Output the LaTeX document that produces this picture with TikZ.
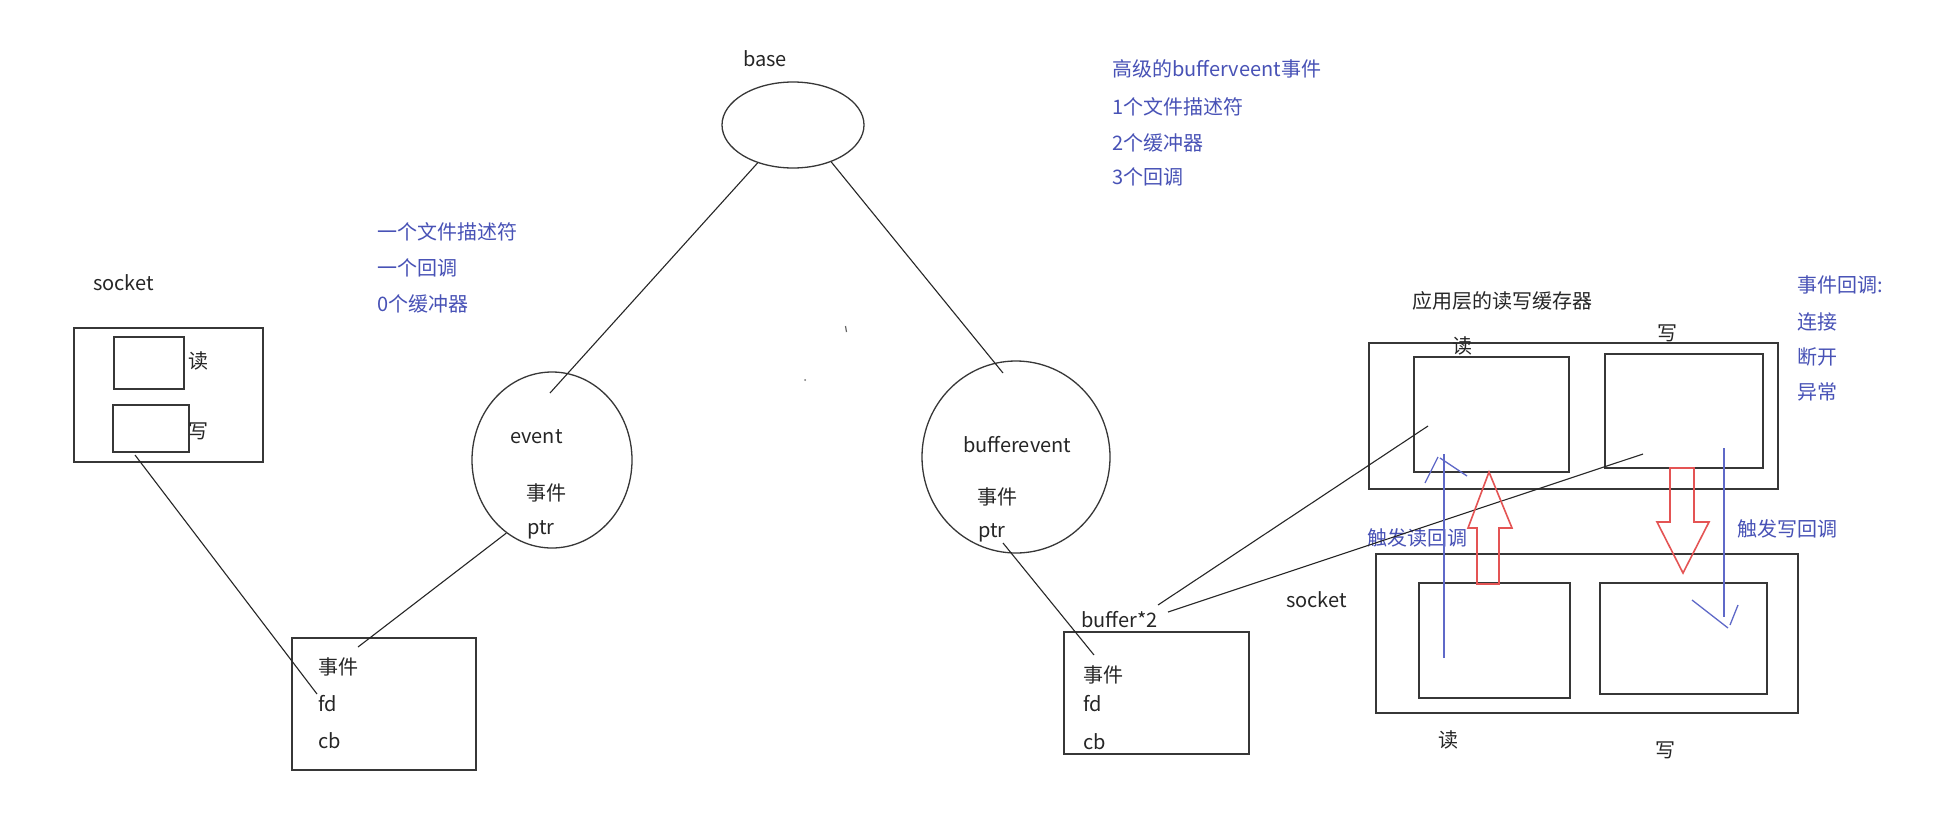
\documentclass[tikz,border=0pt]{standalone}
\usepackage{fontspec}
\setmainfont{Noto Sans CJK SC}
\usetikzlibrary{shapes.geometric}
\definecolor{bluetxt}{RGB}{72,82,182}
\definecolor{bluearr}{RGB}{95,105,200}
\definecolor{redarr}{RGB}{228,84,84}
\definecolor{ink}{RGB}{55,55,55}
\tikzset{
  every node/.style={font=\fontsize{20pt}{24pt}\selectfont, inner sep=0pt},
  lbl/.style={anchor=west, text=black!85},
  blbl/.style={anchor=west, text=bluetxt},
  boxr/.style={draw=ink, line width=1.5pt, rectangle, anchor=north west},
  oval/.style={draw=ink, line width=1.3pt, ellipse},
  conn/.style={draw=black!85, line width=1.1pt},
  barrow/.style={draw=bluearr, line width=1.3pt},
  rarrow/.style={draw=redarr, line width=1.6pt, line join=miter},
}
\begin{document}
\begin{tikzpicture}[x=1pt,y=-1pt]
\useasboundingbox (0,0) rectangle (1938,822);
\fill[white] (0,0) rectangle (1938,822);

% ---------- base ----------
\node[oval, minimum width=142pt, minimum height=86pt] (base) at (793,125) {};
\node[lbl] (tbase) at (743,59) {base};

% ---------- left socket ----------
\node[lbl] (tsock) at (93,283) {socket};
\node[boxr, minimum width=189pt, minimum height=134pt] (sock) at (73,327) {};
\node[boxr, minimum width=70pt, minimum height=52pt] (sockr) at (113,336) {};
\node[boxr, minimum width=76pt, minimum height=47pt] (sockw) at (112,404) {};
\node[lbl] (tsr) at (188,361) {读};
\node[lbl] (tsw) at (188,431) {写};

% ---------- left blue notes ----------
\node[blbl] (n1) at (377,232) {一个文件描述符};
\node[blbl] (n2) at (377,268) {一个回调};
\node[blbl] (n3) at (377,304) {0个缓冲器};

% ---------- event ----------
\node[oval, minimum width=160pt, minimum height=176pt] (event) at (552,460) {};
\node[lbl] (tev) at (510,437) {event};
\node[lbl] (tev2) at (526,493) {事件};
\node[lbl] (tev3) at (527,530) {ptr};

\node[boxr, minimum width=184pt, minimum height=132pt] (evbox) at (291,637) {};
\node[lbl] (eb1) at (318,667) {事件};
\node[lbl] (eb2) at (318,704) {fd};
\node[lbl] (eb3) at (318,741) {cb};

% ---------- bufferevent ----------
\node[oval, minimum width=188pt, minimum height=192pt] (bev) at (1016,457) {};
\node[lbl] (tbev) at (963,445) {bufferevent};
\node[lbl] (tbev2) at (977,497) {事件};
\node[lbl] (tbev3) at (978,533) {ptr};

\node[lbl] (tbuf) at (1081,620) {buffer*2};
\node[boxr, minimum width=185pt, minimum height=122pt] (bbox) at (1063,631) {};
\node[lbl] (bb1) at (1083,675) {事件};
\node[lbl] (bb2) at (1083,704) {fd};
\node[lbl] (bb3) at (1083,742) {cb};

% ---------- top right notes ----------
\node[blbl] (m1) at (1112,69) {高级的bufferveent事件};
\node[blbl] (m2) at (1112,107) {1个文件描述符};
\node[blbl] (m3) at (1112,143) {2个缓冲器};
\node[blbl] (m4) at (1112,177) {3个回调};

% ---------- application buffers ----------
\node[lbl] (tapp) at (1412,301) {应用层的读写缓存器};
\node[boxr, minimum width=409pt, minimum height=146pt] (app) at (1368,342) {};
\node[boxr, minimum width=155pt, minimum height=115pt] (appr) at (1413,356) {};
\node[boxr, minimum width=158pt, minimum height=114pt] (appw) at (1604,353) {};
\node[lbl] (tar) at (1452,346) {读};
\node[lbl] (taw) at (1657,333) {写};

% ---------- right socket ----------
\node[lbl] (tsock2) at (1286,600) {socket};
\node[boxr, minimum width=422pt, minimum height=159pt] (ks) at (1375,553) {};
\node[boxr, minimum width=151pt, minimum height=115pt] (ksr) at (1418,582) {};
\node[boxr, minimum width=167pt, minimum height=111pt] (ksw) at (1599,582) {};
\node[lbl] (tkr) at (1438,740) {读};
\node[lbl] (tkw) at (1655,750) {写};

% ---------- right blue notes ----------
\node[blbl] (c1) at (1797,285) {事件回调:};
\node[blbl] (c2) at (1797,322) {连接};
\node[blbl] (c3) at (1797,357) {断开};
\node[blbl] (c4) at (1797,392) {异常};
\node[blbl] (trd) at (1367,538) {触发读回调};
\node[blbl] (twr) at (1737,529) {触发写回调};

% ---------- connector end points ----------
\coordinate (pEvIn) at (550,393);
\coordinate (pBevIn) at (1003,373);
\coordinate (pSockW) at (135,455);
\coordinate (pFd) at (317,694);
\coordinate (pEvBox) at (358,647);
\coordinate (pPtr) at (1003,543);
\coordinate (pBBox) at (1094,655);
\coordinate (pBuf1) at (1158,605);
\coordinate (pBuf2) at (1168,612);
\coordinate (pAppR) at (1428,426);
\coordinate (pAppW) at (1643,454);

% ---------- connectors ----------
\draw[conn] (base.-133) -- (pEvIn);
\draw[conn] (base.-44) -- (pBevIn);
\draw[conn] (pSockW) -- (pFd);
\draw[conn] (event.-122) -- (pEvBox);
\draw[conn] (pPtr) -- (pBBox);
\draw[conn] (pBuf1) -- (pAppR);
\draw[conn] (pBuf2) -- (pAppW);

% ---------- red hollow arrows ----------
\draw[rarrow] (1477,584) -- (1477,528) -- (1468,528) -- (1489,472) -- (1512,528) -- (1499,528) -- (1499,584) -- cycle;
\draw[rarrow] (1670,468) -- (1694,468) -- (1694,522) -- (1709,522) -- (1683,573) -- (1657,522) -- (1670,522) -- cycle;

% ---------- blue hand-drawn arrows ----------
\draw[barrow] (1444,658) -- (1444,454);
\draw[barrow] (1425,483) -- (1438,457);
\draw[barrow] (1440,458) -- (1467,476);
\draw[barrow] (1724,448) -- (1724,617);
\draw[barrow] (1692,600) -- (1728,628);
\draw[barrow] (1738,605) -- (1730,625);

% ---------- specks ----------
\draw[black!60, line width=1.2pt] (845.5,326) -- (846.5,332);
\fill[black!55] (805,380) circle (1pt);
\end{tikzpicture}
\end{document}
